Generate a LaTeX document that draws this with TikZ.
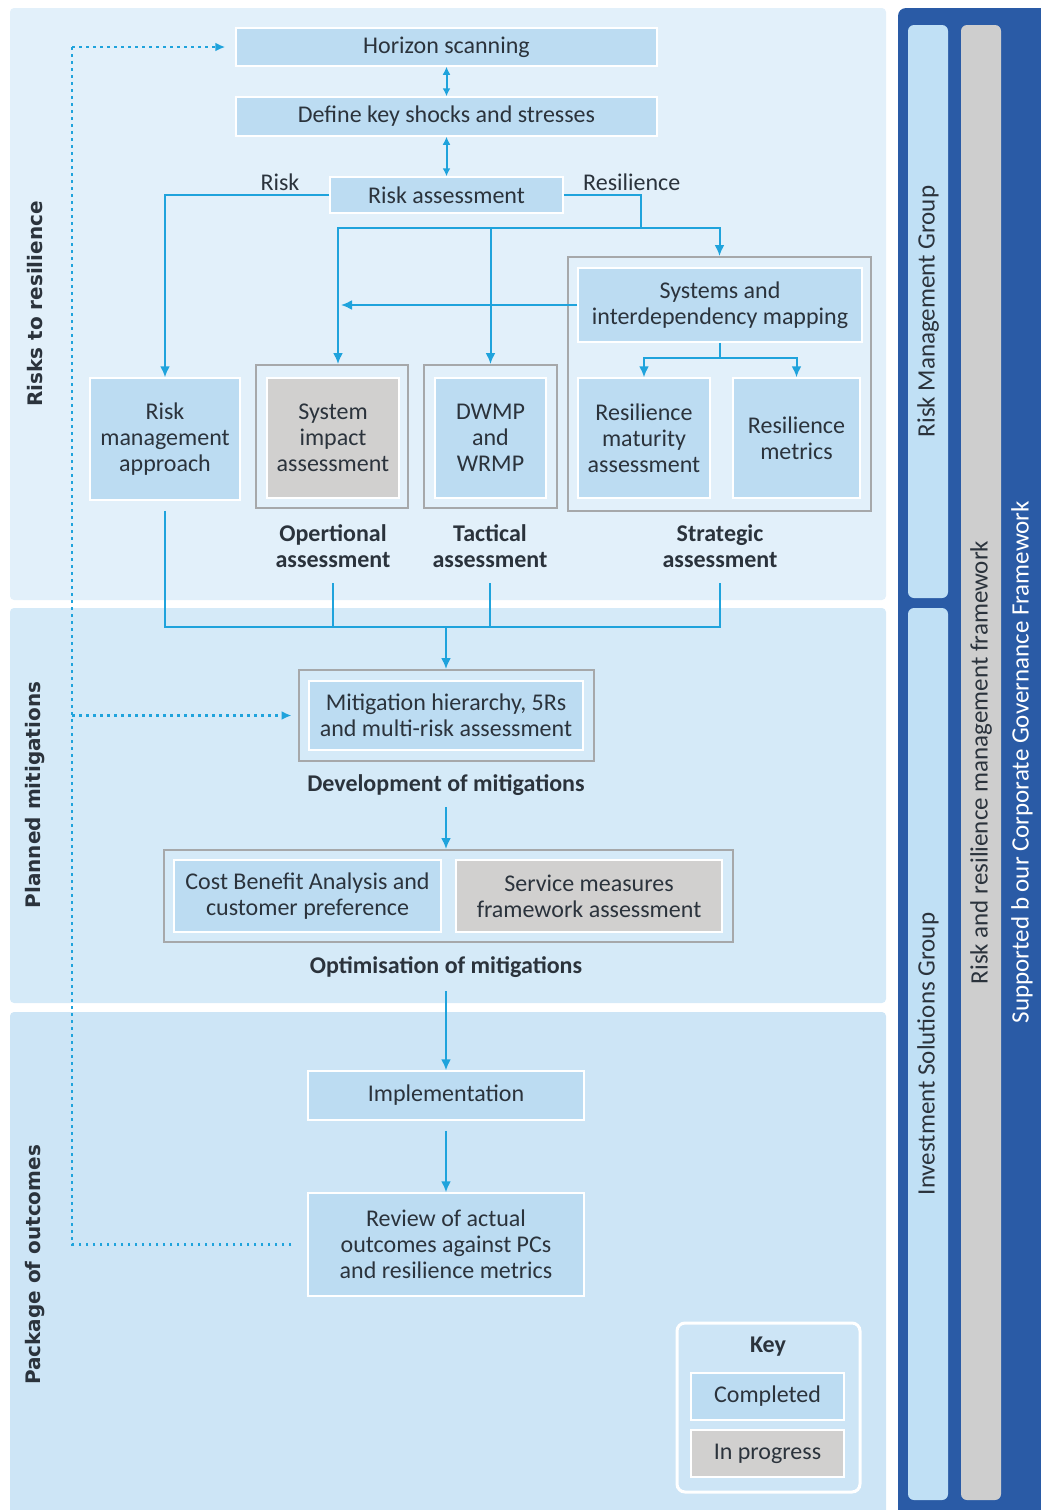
\documentclass[tikz,border=0pt]{standalone}
\usepackage{fontspec}
\setmainfont{Carlito}
\newfontfamily\bandfont{DejaVu Sans}
\usetikzlibrary{shapes,arrows.meta,positioning}

\definecolor{bandtop}{HTML}{E2F0FA}
\definecolor{bandmid}{HTML}{D5EAF8}
\definecolor{bandlow}{HTML}{CDE5F6}
\definecolor{boxblue}{HTML}{BCDCF2}
\definecolor{boxgrey}{HTML}{D1D0CF}
\definecolor{framegrey}{HTML}{A6A8AA}
\definecolor{flowblue}{HTML}{1FA3DC}
\definecolor{navy}{HTML}{2A5BA6}
\definecolor{barblue}{HTML}{C0E0F5}
\definecolor{bargrey}{HTML}{CECECE}
\definecolor{ink}{HTML}{2B333C}

\tikzstyle{block} = [rectangle, draw=white, line width=1.5pt, fill=boxblue, text=ink,
    align=center, inner sep=0pt]
\tikzstyle{pending} = [block, fill=boxgrey]
\tikzstyle{stagebox} = [rectangle, draw=framegrey, line width=2pt, inner sep=0pt]
\tikzstyle{caption} = [text=ink, align=center, font=\fontsize{24}{26}\selectfont\bfseries]
\tikzstyle{sidebar} = [rectangle, rounded corners=6pt, text=ink, rotate=90, inner sep=0pt,
    minimum height=40pt, font=\fontsize{25}{30}\selectfont]
\tikzstyle{bandlabel} = [rotate=90, text=ink, font=\bandfont\bfseries\fontsize{20}{24}\selectfont]
\tikzset{
  line/.style ={draw=flowblue, line width=2pt, -{Latex[length=11pt, width=10pt]}},
  wire/.style ={draw=flowblue, line width=2pt},
  twoway/.style ={draw=flowblue, line width=2pt, {Latex[length=8pt, width=8pt]}-{Latex[length=8pt, width=8pt]}},
  feedback/.style ={draw=flowblue, line width=2.6pt, dash pattern=on 2.6pt off 4.4pt}
}

\begin{document}
\begin{tikzpicture}[x=1pt, y=-1pt, font=\fontsize{24}{26}\selectfont, text=ink]
   \useasboundingbox (0,0) rectangle (1041,1510);
   % bands
   \fill [bandtop, rounded corners=4pt] (10,8) rectangle (886,600);
   \fill [bandmid, rounded corners=4pt] (10,608) rectangle (886,1003);
   \fill [bandlow, rounded corners=4pt] (10,1012) rectangle (886,1518);
   \fill [navy, rounded corners=8pt] (898,8) rectangle (1050,1518);
   \node [bandlabel] (band_risks) at (35,304) {Risks to resilience};
   \node [bandlabel] (band_planned) at (35,795) {Planned mitigations};
   \node [bandlabel] (band_package) at (35,1265) {Package of outcomes};

   \node [block, minimum width=421pt, minimum height=38pt] (horizon) at (446.5,47) {Horizon scanning};
   \node [block, minimum width=421pt, minimum height=39pt] (shocks) at (446.5,116.5) {Define key shocks and stresses};
   \node [block, minimum width=233pt, minimum height=36pt] (risk_assess) at (446.5,195) {Risk assessment};
   \node [block, minimum width=150pt, minimum height=122pt] (risk_mgmt) at (165,439) {Risk\\management\\approach};
   \node [stagebox, minimum width=152pt, minimum height=143pt] (op_group) at (332,436.5) {};
   \node [pending, minimum width=132pt, minimum height=120pt] (sys_impact) at (333,438) {System\\impact\\assessment};
   \node [stagebox, minimum width=133pt, minimum height=143pt] (tac_group) at (490.5,436.5) {};
   \node [block, minimum width=111pt, minimum height=120pt] (dwmp) at (490.5,438) {DWMP\\and\\WRMP};
   \node [stagebox, minimum width=303pt, minimum height=254pt] (strat_group) at (719.5,384) {};
   \node [block, minimum width=284pt, minimum height=74pt] (sys_map) at (720,305) {Systems and\\interdependency mapping};
   \node [block, minimum width=132pt, minimum height=120pt] (res_maturity) at (644,438) {Resilience\\maturity\\assessment};
   \node [block, minimum width=127pt, minimum height=120pt] (res_metrics) at (796.5,438) {Resilience\\metrics};
   \node [caption] (op_label) at (333,546) {Opertional\\assessment};
   \node [caption] (tac_label) at (490,546) {Tactical\\assessment};
   \node [caption] (strat_label) at (720,546) {Strategic\\assessment};

   \node [stagebox, minimum width=295pt, minimum height=91pt] (dev_group) at (446,715.5) {};
   \node [block, minimum width=274pt, minimum height=69pt] (mitigation) at (446,715.5) {Mitigation hierarchy, 5Rs\\and multi-risk assessment};
   \node [caption] (dev_label) at (446,785) {Development of mitigations};
   \node [stagebox, minimum width=569pt, minimum height=92pt] (opt_group) at (448.5,896) {};
   \node [block, minimum width=267pt, minimum height=72pt] (cba) at (307.5,896) {Cost Benefit Analysis and\\customer preference};
   \node [pending, minimum width=266pt, minimum height=72pt] (service) at (589,896) {Service measures\\framework assessment};
   \node [caption] (opt_label) at (446,967) {Optimisation of mitigations};

   \node [block, minimum width=276pt, minimum height=49pt] (implementation) at (446,1095.5) {Implementation};
   \node [block, minimum width=276pt, minimum height=103pt] (review) at (446,1244.5) {Review of actual\\outcomes against PCs\\and resilience metrics};

   % key
   \node [rectangle, rounded corners=8pt, draw=white, line width=3pt, minimum width=183pt, minimum height=169pt] (key_box) at (768.5,1407.5) {};
   \node [caption] (key_label) at (768,1347) {Key};
   \node [block, minimum width=153pt, minimum height=47pt] (completed) at (767.5,1396.5) {Completed};
   \node [pending, minimum width=153pt, minimum height=47pt] (in_progress) at (767.5,1453.5) {In progress};

   % side bars
   \node [sidebar, fill=barblue, minimum width=573pt] (risk_group) at (928,311.5) {Risk Management Group};
   \node [sidebar, fill=barblue, minimum width=892pt] (invest_group) at (928,1054) {Investment Solutions Group};
   \node [sidebar, fill=bargrey, minimum width=1475pt] (framework) at (981,762.5) {Risk and resilience management framework};
   \node [rotate=90, text=white, font=\fontsize{25}{30}\selectfont] (governance) at (1022,762) {Supported b our Corporate Governance Framework};

   % connectors
   \coordinate (res_split) at (641,228);
   \coordinate (map_split) at ([yshift=-15pt]sys_map.south);
   \coordinate (merge) at (446,627);
   \coordinate (back_top) at (72,47);
   \coordinate (op_in) at ([xshift=6pt]op_group.north);
   \path [twoway] (horizon) -- (shocks);
   \path [twoway] (shocks) -- (risk_assess);
   \path [line] (risk_assess.west) -| node [pos=0.15, above] {Risk} (risk_mgmt.north);
   \path [wire] (risk_assess.east) -| node [pos=0.44, above] {Resilience} (res_split);
   \path [line] (res_split) -| (op_in);
   \path [line] (res_split) -| (tac_group.north);
   \path [line] (res_split) -| (strat_group.north);
   \path [line] (sys_map.west) -- ([xshift=3pt]sys_map.west -| op_in);
   \path [wire] (sys_map.south) -- (map_split);
   \path [line] (map_split) -| (res_maturity.north);
   \path [line] (map_split) -| (res_metrics.north);
   \path [wire] ([yshift=-10pt]risk_mgmt.south) |- (merge);
   \path [wire] ([yshift=-12pt]op_label.south) |- (merge);
   \path [wire] ([yshift=-12pt]tac_label.south) |- (merge);
   \path [wire] ([yshift=-12pt]strat_label.south) |- (merge);
   \path [line] (merge) -- (dev_group.north);
   \path [line] ([yshift=-8pt]dev_label.south) -- (dev_label.south |- opt_group.north);
   \path [line] ([yshift=-10pt]opt_label.south) -- (opt_label.south |- implementation.north);
   \path [line] ([yshift=-10pt]implementation.south) -- (review.north);
   \path [feedback] ([xshift=-16pt]review.west) -| (back_top);
   \path [feedback, -{Latex[length=10pt, width=9pt]}] (back_top) -- ([xshift=-10pt]horizon.west);
   \path [feedback, -{Latex[length=10pt, width=9pt]}] (back_top |- mitigation) -- ([xshift=-6pt]dev_group.west);
\end{tikzpicture}
\end{document}
